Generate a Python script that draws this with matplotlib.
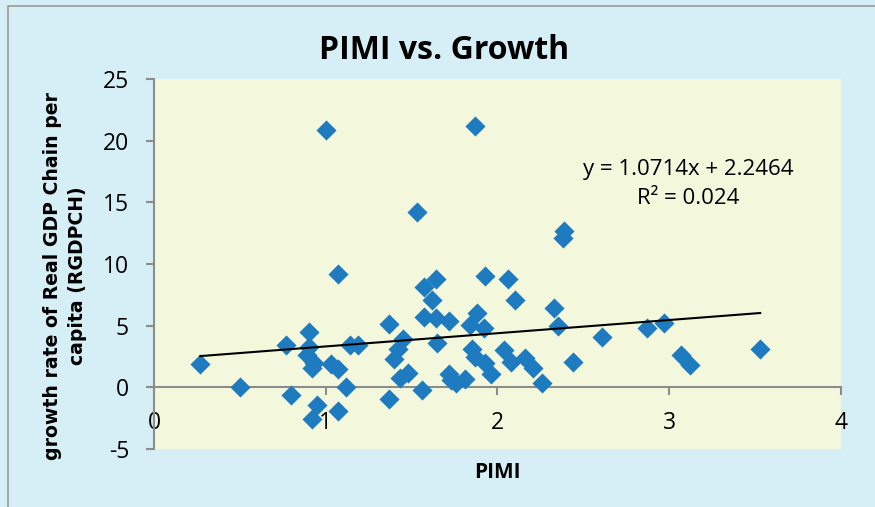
import matplotlib.pyplot as plt
import numpy as np
from matplotlib.patches import Rectangle

# PIMI values and growth rates
pimi = [0.27, 0.50, 0.77, 0.80, 0.90, 0.90, 0.89, 0.92, 0.93, 0.95, 0.92,
        1.00, 1.03, 1.07, 1.07, 1.07, 1.12, 1.14, 1.19, 1.37, 1.37, 1.40,
        1.42, 1.45, 1.43, 1.48, 1.53, 1.56, 1.57, 1.57, 1.62, 1.64, 1.64,
        1.65, 1.72, 1.72, 1.73, 1.76, 1.81, 1.84, 1.85, 1.87, 1.87, 1.88,
        1.92, 1.93, 1.93, 1.96, 2.04, 2.06, 2.08, 2.10, 2.16, 2.21, 2.26,
        2.33, 2.35, 2.38, 2.39, 2.44, 2.61, 2.87, 2.97, 3.07, 3.12, 3.53]
growth = [1.9, 0.0, 3.4, -0.6, 4.5, 3.3, 2.65, 1.6, 2.0, -1.4, -2.6,
          20.9, 1.9, 1.5, -1.95, 9.2, 0.05, 3.45, 3.45, 5.1, -0.95, 2.3,
          3.1, 3.9, 0.75, 1.15, 14.25, -0.2, 8.1, 5.7, 7.1, 8.75, 5.6,
          3.6, 5.35, 1.05, 0.6, 0.35, 0.65, 5.05, 3.1, 2.5, 21.2, 6.0,
          4.8, 2.0, 9.05, 1.05, 3.0, 8.8, 2.05, 7.1, 2.35, 1.55, 0.35,
          6.45, 4.95, 12.1, 12.65, 2.05, 4.05, 4.8, 5.2, 2.6, 1.85, 3.1]

slope = 1.0714
intercept = 2.2464
r_squared = 0.024

x_ticks = [0, 1, 2, 3, 4]
y_ticks = [-5, 0, 5, 10, 15, 20, 25]

plt.rcParams['font.family'] = ['Open Sans', 'DejaVu Sans']
plt.rcParams['axes.unicode_minus'] = False

fig = plt.figure(figsize=(8.75, 5.07), dpi=100, facecolor='#d6eef5')
ax = fig.add_axes([0.176, 0.1144, 0.785, 0.7296])
ax.set_facecolor('#f3f8dd')

# outer chart border
fig.patches.append(Rectangle((0.009, -0.01), 1.0, 0.998, transform=fig.transFigure,
                             fill=False, edgecolor='#9a9a9a', linewidth=1.2))

ax.scatter(pimi, growth, marker='D', s=105, color='#1f7bc0', zorder=3,
           linewidths=0)

# linear trendline
xs = np.array([min(pimi), max(pimi)])
ax.plot(xs, slope * xs + intercept, color='black', linewidth=1.5, zorder=4)

ax.set_xlim(0, 4)
ax.set_ylim(-5, 25)
ax.set_xticks(x_ticks)
ax.set_yticks(y_ticks)

ax.spines['top'].set_visible(False)
ax.spines['right'].set_visible(False)
ax.spines['bottom'].set_position(('data', 0))
for s in ['left', 'bottom']:
    ax.spines[s].set_color('#8c8c8c')
    ax.spines[s].set_linewidth(1.5)
ax.tick_params(axis='both', direction='out', length=6, width=1.5, color='#8c8c8c',
               labelsize=16.5)
ax.tick_params(axis='x', pad=11)
ax.tick_params(axis='y', pad=12)

fig.text(0.508, 0.9, 'PIMI vs. Growth', fontsize=23, fontweight='bold',
         ha='center', va='center')
ax.set_xlabel('PIMI', fontsize=15, fontweight='bold')
ax.xaxis.set_label_coords(0.5, -0.035)
ax.set_ylabel('growth rate of Real GDP Chain per\ncapita (RGDPCH)', fontsize=13.6,
              fontweight='bold', family='DejaVu Sans', linespacing=1.45)
ax.yaxis.set_label_coords(-0.097, 0.468)

ax.text(3.11, 17.66, f'y = {slope}x + {intercept}', ha='center', va='center',
        fontsize=16)
ax.text(3.11, 15.3, f'R² = {r_squared}', ha='center', va='center', fontsize=16)

fig.savefig('out.png', dpi=100, facecolor=fig.get_facecolor())
